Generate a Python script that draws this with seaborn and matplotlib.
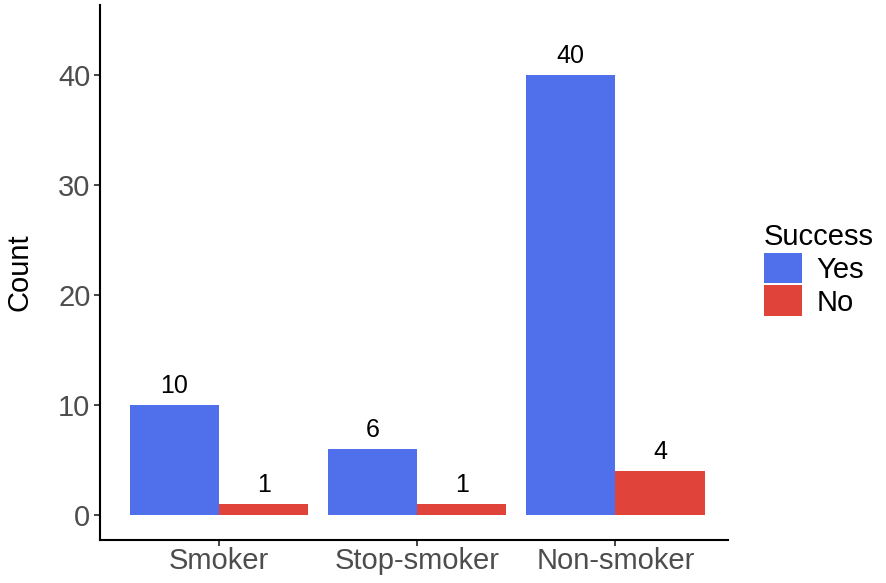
import pandas as pd
import matplotlib
matplotlib.use("Agg")
import matplotlib.pyplot as plt
import seaborn as sns

groups = ["Smoker", "Stop-smoker", "Non-smoker"]
yes_counts = [10, 6, 40]
no_counts = [1, 1, 4]
success_levels = ["Yes", "No"]
palette = {"Yes": "#4F6FEB", "No": "#E0433A"}

df = pd.DataFrame({
    "group": groups * 2,
    "Success": ["Yes"] * 3 + ["No"] * 3,
    "count": yes_counts + no_counts,
})

sns.set_style("ticks")
plt.rcParams["font.family"] = ["Liberation Sans", "DejaVu Sans"]

fig = plt.figure(figsize=(8.86, 5.83), dpi=100)
ax = fig.add_axes([0.113, 0.074, 0.709, 0.917])

sns.barplot(data=df, x="group", y="count", hue="Success", order=groups,
            hue_order=success_levels, palette=palette, width=0.9,
            saturation=1, linewidth=0, ax=ax)

for cont in ax.containers:
    ax.bar_label(cont, labels=[str(int(v)) for v in cont.datavalues],
                 padding=5, fontsize=18, color="black")

ax.set_xlim(-0.6, 2.57)
ax.set_ylim(-2.26, 46.3)
ax.set_yticks([0, 10, 20, 30, 40])
ax.set_xlabel("")
ax.set_ylabel("Count", fontsize=21, labelpad=18, color="black")
ax.tick_params(axis="both", labelsize=21, labelcolor="#4D4D4D", length=4, width=1.2)
ax.tick_params(axis="x", pad=1)
ax.tick_params(axis="y", pad=3)
for s in ["top", "right"]:
    ax.spines[s].set_visible(False)
for s in ["left", "bottom"]:
    ax.spines[s].set_linewidth(1.5)
    ax.spines[s].set_color("black")

leg = ax.legend(title="Success", loc="center left", bbox_to_anchor=(1.015, 0.505),
                frameon=False, fontsize=21, title_fontsize=21,
                handlelength=1.3, handleheight=1.25, handletextpad=0.5,
                labelspacing=0.05)
leg._legend_box.align = "left"
for t in leg.get_texts():
    t.set_color("black")
leg.get_title().set_color("black")

fig.savefig("out.png", dpi=100)
